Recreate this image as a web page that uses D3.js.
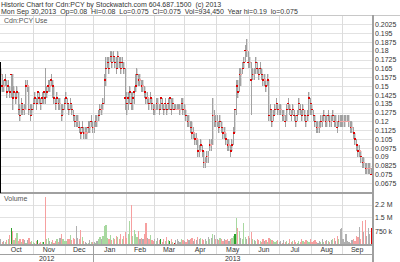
<!DOCTYPE html>
<html>
<head>
<meta charset="utf-8">
<script src="https://cdn.jsdelivr.net/npm/d3@7/dist/d3.min.js"></script>
<style>
  body { margin: 0; background: #fff; }
  svg { display: block; font-family: "Liberation Sans", Arial, sans-serif; }
  .title { white-space: pre; }
</style>
</head>
<body>
<div id="chart"></div>
<script>
// --------------------------------------
//  Data (daily bars: [high, low, close] in thousandths of a dollar, volume in thousands)
// --------------------------------------

const oct12 = [[165,145,160,320],[160,145,150,150],[155,145,150,200],[160,150,155,180],[155,140,145,260],[155,145,150,300],[150,140,145,540],[160,140,160,950],[160,130,140,750],[150,140,145,250],[145,135,140,400],[150,140,145,650],[145,125,130,220],[135,120,125,300],[140,125,135,180],[135,125,130,350],[135,125,130,280],[155,130,150,120],[155,145,150,250],[150,125,130,400],[135,120,125,150],[135,125,130,200]];
const nov12 = [[140,130,135,150],[145,135,140,100],[140,130,135,200],[145,135,145,250],[145,135,140,120],[140,130,135,150],[145,135,140,180],[145,135,145,150],[165,135,140,2600],[150,140,145,300],[155,145,150,400],[155,145,150,200],[160,150,155,150],[155,140,150,250],[150,135,140,120],[140,130,135,200],[145,135,140,300],[140,130,135,180],[140,130,135,400],[135,120,125,600],[135,125,130,350],[140,130,135,200]];
const dec12 = [[145,135,140,200],[140,130,135,350],[135,125,130,300],[140,130,135,550],[135,125,130,250],[130,120,125,400],[125,115,120,300],[125,115,120,1050],[125,115,120,400],[120,110,115,350],[115,105,110,800],[120,110,115,450],[115,105,110,200],[115,105,110,150],[115,105,110,120],[120,110,115,100],[120,110,115,250],[125,115,120,180],[120,110,115,150]];
const jan13 = [[120,110,115,150],[125,115,120,100],[125,115,120,200],[130,120,125,300],[135,125,130,450],[135,125,130,350],[140,130,135,500],[160,135,155,1050],[175,150,165,1100],[175,165,170,400],[175,160,165,300],[180,170,175,550],[180,165,170,250],[180,170,175,400],[175,165,170,300],[175,160,165,500],[180,165,175,450],[175,165,170,350],[175,160,165,600],[175,165,170,300],[170,160,165,500],[165,130,140,700]];
const feb13 = [[145,125,135,400],[145,130,140,600],[150,135,145,1300],[145,130,135,2150],[145,130,140,500],[150,135,145,800],[160,145,150,600],[165,150,160,450],[160,150,155,750],[160,150,155,300],[155,145,150,400],[155,145,150,350],[150,140,145,600],[145,135,140,1200],[145,135,140,400],[140,130,135,300],[145,135,140,550],[140,130,135,250],[135,125,130,200]];
const mar13 = [[135,125,130,300],[140,130,135,200],[140,130,135,400],[135,125,130,250],[140,130,140,350],[140,130,135,150],[135,125,130,300],[140,130,135,200],[135,125,130,450],[140,130,135,250],[140,130,140,200],[140,125,130,350],[140,130,135,150],[135,130,130,100],[135,130,130,250],[135,130,130,300],[135,130,130,200],[135,125,130,150],[140,130,135,350],[140,125,130,250]];
const apr13 = [[135,125,130,200],[130,120,125,150],[125,115,120,300],[125,115,120,250],[120,110,115,350],[120,105,110,400],[115,105,110,200],[110,100,105,300],[110,100,105,250],[105,90,95,450],[100,90,95,300],[105,95,100,400],[100,90,95,350],[95,80,85,250],[90,80,85,300],[95,85,90,200],[95,85,90,450],[105,95,100,350],[105,95,100,400],[140,100,125,600],[130,115,125,550],[125,115,120,300]];
const may13 = [[125,115,120,300],[120,110,115,250],[125,115,120,400],[120,110,115,350],[115,105,110,200],[115,105,110,300],[110,100,105,250],[105,95,100,350],[105,95,100,200],[100,90,95,300],[105,95,100,400],[115,100,110,500],[130,110,130,600],[155,125,150,1450],[155,140,145,900],[165,145,160,750],[165,150,160,400],[170,160,165,350],[175,165,170,1200],[185,170,180,450],[190,175,180,300],[180,165,170,500]];
const jun13 = [[175,165,170,400],[170,125,155,700],[165,155,160,350],[165,155,160,250],[175,160,170,200],[170,160,165,300],[165,155,160,250],[170,160,165,200],[165,155,160,150],[160,150,155,300],[160,150,155,200],[155,145,150,250],[160,150,155,150],[155,120,125,400],[135,120,130,300],[130,115,120,250],[130,120,125,200],[135,125,130,150],[140,130,135,200],[135,125,130,250]];
const jul13 = [[135,125,130,150],[135,125,130,200],[130,120,125,100],[130,120,125,250],[125,115,120,150],[135,120,130,200],[140,130,135,100],[135,125,130,300],[130,120,125,150],[135,125,130,200],[130,120,125,250],[125,115,120,150],[130,120,125,100],[140,125,135,200],[135,125,130,150],[130,120,125,300],[135,125,130,200],[130,120,125,150],[125,115,120,250],[130,120,125,200],[145,125,140,150],[140,125,135,300]];
const aug13 = [[135,125,130,150],[130,120,125,200],[125,115,120,250],[120,110,115,150],[120,110,115,100],[120,110,115,200],[125,115,120,150],[125,115,120,300],[130,120,125,150],[125,115,120,200],[125,115,120,250],[130,120,125,200],[125,115,120,150],[125,115,120,250],[130,120,125,300],[125,115,120,400],[125,115,120,200],[120,110,115,500],[125,115,120,350],[125,115,120,850],[125,115,120,950]];
const sep13 = [[125,115,120,300],[125,115,120,150],[125,120,120,600],[125,120,120,200],[125,115,120,150],[120,110,115,100],[120,110,115,250],[115,105,110,300],[110,100,105,200],[105,95,100,500],[100,90,95,450],[100,90,95,1000],[95,85,90,300],[90,80,85,1300],[90,80,85,700],[85,75,80,1350],[85,75,80,500],[85,75,80,900],[85,75,80,600],[80,75,75,934.45]];

const monthLabels = ["Oct", "Nov", "Dec", "Jan", "Feb", "Mar", "Apr", "May", "Jun", "Jul", "Aug", "Sep"];
const yearLabels = ["2012", "2013"];
const yearMonthCounts = [3, 9];

const priceTicks = [0.0675, 0.075, 0.0825, 0.09, 0.0975, 0.105, 0.1125, 0.12, 0.1275, 0.135,
                    0.1425, 0.15, 0.1575, 0.165, 0.1725, 0.18, 0.1875, 0.195, 0.2025];
const volumeTicks = [750000, 1500000, 2200000];
const volumeTickLabels = ["750 k", "1.5 M", "2.2 M"];

const titleLine1 = "Historic Chart for Cdn:PCY by Stockwatch.com 604.687.1500  (c) 2013";
const titleLine2 = "Mon Sep 30,2013  Op=0.08  Hi=0.08  Lo=0.075  Cl=0.075  Vol=934,450  Year hi=0.19  lo=0.075";

// --------------------------------------
//  Build the daily table
// --------------------------------------

const monthsData = [oct12, nov12, dec12, jan13, feb13, mar13, apr13, may13, jun13, jul13, aug13, sep13];
const days = [];
const monthStart = [];
monthsData.forEach((m, mi) => {
  monthStart.push(days.length);
  m.forEach(d => days.push({hi: d[0] / 1000, lo: d[1] / 1000, cl: d[2] / 1000, vol: d[3] * 1000, month: mi}));
});
monthStart.push(days.length);
days.forEach((d, i) => { d.i = i; d.prev = i > 0 ? days[i - 1].cl : d.cl; });

// --------------------------------------
//  Canvas
// --------------------------------------

const width = 400;
const height = 262;
const plotRight = 372;
const priceTop = 15, priceBottom = 193;
const volTop = 193, volBottom = 245;

const svg = d3.select("#chart")
  .append("svg")
    .attr("width", width)
    .attr("height", height)
    .attr("viewBox", `0, 0, ${width}, ${height}`);

// --------------------------------------
//  Scales
// --------------------------------------

const x = d3.scaleLinear()
    .domain([0, days.length])
    .range([0, plotRight]);

const y = d3.scaleLinear()
    .domain([0.0675, 0.2025])
    .range([183.2, 24.2]);

const yv = d3.scaleLinear()
    .domain([0, 2200000])
    .range([volBottom, 204.5]);

// --------------------------------------
//  Grid
// --------------------------------------

const grid = svg.append("g").attr("shape-rendering", "crispEdges");

grid.selectAll(".hgrid")
  .data(priceTicks)
  .join("line")
    .attr("x1", 0).attr("x2", plotRight)
    .attr("y1", d => Math.round(y(d)) + 0.5)
    .attr("y2", d => Math.round(y(d)) + 0.5)
    .attr("stroke", "#e2e2e2");

grid.selectAll(".vgrid")
  .data(volumeTicks)
  .join("line")
    .attr("x1", 0).attr("x2", plotRight)
    .attr("y1", d => Math.round(yv(d)) + 0.5)
    .attr("y2", d => Math.round(yv(d)) + 0.5)
    .attr("stroke", "#e2e2e2");

grid.selectAll(".mgrid")
  .data(monthStart.slice(1, -1))
  .join("line")
    .attr("x1", d => Math.round(x(d)) + 0.5)
    .attr("x2", d => Math.round(x(d)) + 0.5)
    .attr("y1", priceTop).attr("y2", 254)
    .attr("stroke", "#dcdcdc");

// --------------------------------------
//  Price bars
// --------------------------------------

const bars = svg.append("g").attr("shape-rendering", "crispEdges");

bars.selectAll(".shade")
  .data(days)
  .join("rect")
    .attr("x", d => x(d.i + 0.5))
    .attr("width", 1)
    .attr("y", d => y(d.hi))
    .attr("height", d => Math.max(1, y(d.lo) - y(d.hi)))
    .attr("fill", "#dadada");

bars.selectAll(".range")
  .data(days)
  .join("rect")
    .attr("x", d => x(d.i + 0.5) - 0.6)
    .attr("width", 1)
    .attr("y", d => y(d.hi))
    .attr("height", d => Math.max(1, y(d.lo) - y(d.hi)))
    .attr("fill", "#a2a2a2");

bars.selectAll(".close")
  .data(days)
  .join("rect")
    .attr("x", d => x(d.i + 0.5) - 0.8)
    .attr("width", 2)
    .attr("y", d => y(d.cl) - 0.75)
    .attr("height", 1.5)
    .attr("fill", d => d.cl !== d.prev ? "#e00000" : "#f4a0a0");

// --------------------------------------
//  Volume bars
// --------------------------------------

const volColor = d => {
  if (d.cl > d.prev) return d.cl === d.hi ? "#2ca02c" : "#a8d8a0";
  if (d.cl < d.prev) return d.cl === d.lo ? "#e00000" : "#f6a0a0";
  return "#b0b0b0";
};

svg.append("g")
    .attr("shape-rendering", "crispEdges")
  .selectAll("rect")
  .data(days)
  .join("rect")
    .attr("x", d => x(d.i + 0.5) - 0.6)
    .attr("width", 1.2)
    .attr("y", d => yv(d.vol))
    .attr("height", d => volBottom - yv(d.vol))
    .attr("fill", volColor);

// --------------------------------------
//  Frame lines
// --------------------------------------

const frame = svg.append("g").attr("shape-rendering", "crispEdges");

frame.append("line")
    .attr("x1", 0).attr("x2", width)
    .attr("y1", priceTop + 0.5).attr("y2", priceTop + 0.5)
    .attr("stroke", "#c8c8c8");

frame.append("line")
    .attr("x1", 0).attr("x2", plotRight)
    .attr("y1", volTop).attr("y2", volTop)
    .attr("stroke", "#a0a0a0").attr("stroke-width", 2);

frame.append("line")
    .attr("x1", 0).attr("x2", plotRight)
    .attr("y1", volBottom).attr("y2", volBottom)
    .attr("stroke", "#a0a0a0").attr("stroke-width", 2);

frame.append("line")
    .attr("x1", 0).attr("x2", plotRight)
    .attr("y1", 254.5).attr("y2", 254.5)
    .attr("stroke", "#a0a0a0");

frame.append("line")
    .attr("x1", plotRight + 0.5).attr("x2", plotRight + 0.5)
    .attr("y1", priceTop).attr("y2", height)
    .attr("stroke", "#a0a0a0").attr("stroke-width", 2);

frame.append("line")
    .attr("x1", Math.round(x(monthStart[3])) + 0.5)
    .attr("x2", Math.round(x(monthStart[3])) + 0.5)
    .attr("y1", volBottom).attr("y2", height)
    .attr("stroke", "#a0a0a0");

frame.append("line")
    .attr("x1", 0.5).attr("x2", 0.5)
    .attr("y1", 62).attr("y2", volTop)
    .attr("stroke", "#000");

// --------------------------------------
//  Axes
// --------------------------------------

const priceAxis = svg.append("g")
    .attr("transform", `translate(${plotRight}, 0)`)
    .call(d3.axisRight(y)
        .tickValues(priceTicks)
        .tickFormat(d => String(+d.toFixed(4)))
        .tickSize(0)
        .tickPadding(3));

const volAxis = svg.append("g")
    .attr("transform", `translate(${plotRight}, 0)`)
    .call(d3.axisRight(yv)
        .tickValues(volumeTicks)
        .tickFormat((d, i) => volumeTickLabels[i])
        .tickSize(0)
        .tickPadding(3));

[priceAxis, volAxis].forEach(a => {
  a.select(".domain").remove();
  a.selectAll("text")
    .attr("font-size", 7)
    .attr("font-family", "Liberation Sans, Arial, sans-serif")
    .attr("fill", "#333");
});

// month labels
svg.append("g")
  .selectAll("text")
  .data(monthLabels)
  .join("text")
    .attr("x", (d, i) => (x(monthStart[i]) + x(monthStart[i + 1])) / 2)
    .attr("y", 252)
    .attr("text-anchor", "middle")
    .attr("font-size", 7)
    .attr("fill", "#333")
    .text(d => d);

// year labels
const yearEdges = [0, yearMonthCounts[0], yearMonthCounts[0] + yearMonthCounts[1]];
svg.append("g")
  .selectAll("text")
  .data(yearLabels)
  .join("text")
    .attr("x", (d, i) => (x(monthStart[yearEdges[i]]) + x(monthStart[yearEdges[i + 1]])) / 2)
    .attr("y", 261)
    .attr("text-anchor", "middle")
    .attr("font-size", 7)
    .attr("fill", "#333")
    .text(d => d);

// --------------------------------------
//  Titles
// --------------------------------------

svg.append("text")
    .attr("class", "title")
    .attr("x", 1).attr("y", 6.5)
    .attr("font-size", 7)
    .attr("fill", "#333")
    .text(titleLine1);

svg.append("text")
    .attr("class", "title")
    .attr("x", 1).attr("y", 13.5)
    .attr("font-size", 7)
    .attr("fill", "#333")
    .text(titleLine2);

svg.append("text")
    .attr("x", 4).attr("y", 22.5)
    .attr("font-size", 7)
    .attr("fill", "#555")
    .text("Cdn:PCY Use");

svg.append("text")
    .attr("x", 4).attr("y", 201)
    .attr("font-size", 7)
    .attr("fill", "#555")
    .text("Volume");
</script>
</body>
</html>
